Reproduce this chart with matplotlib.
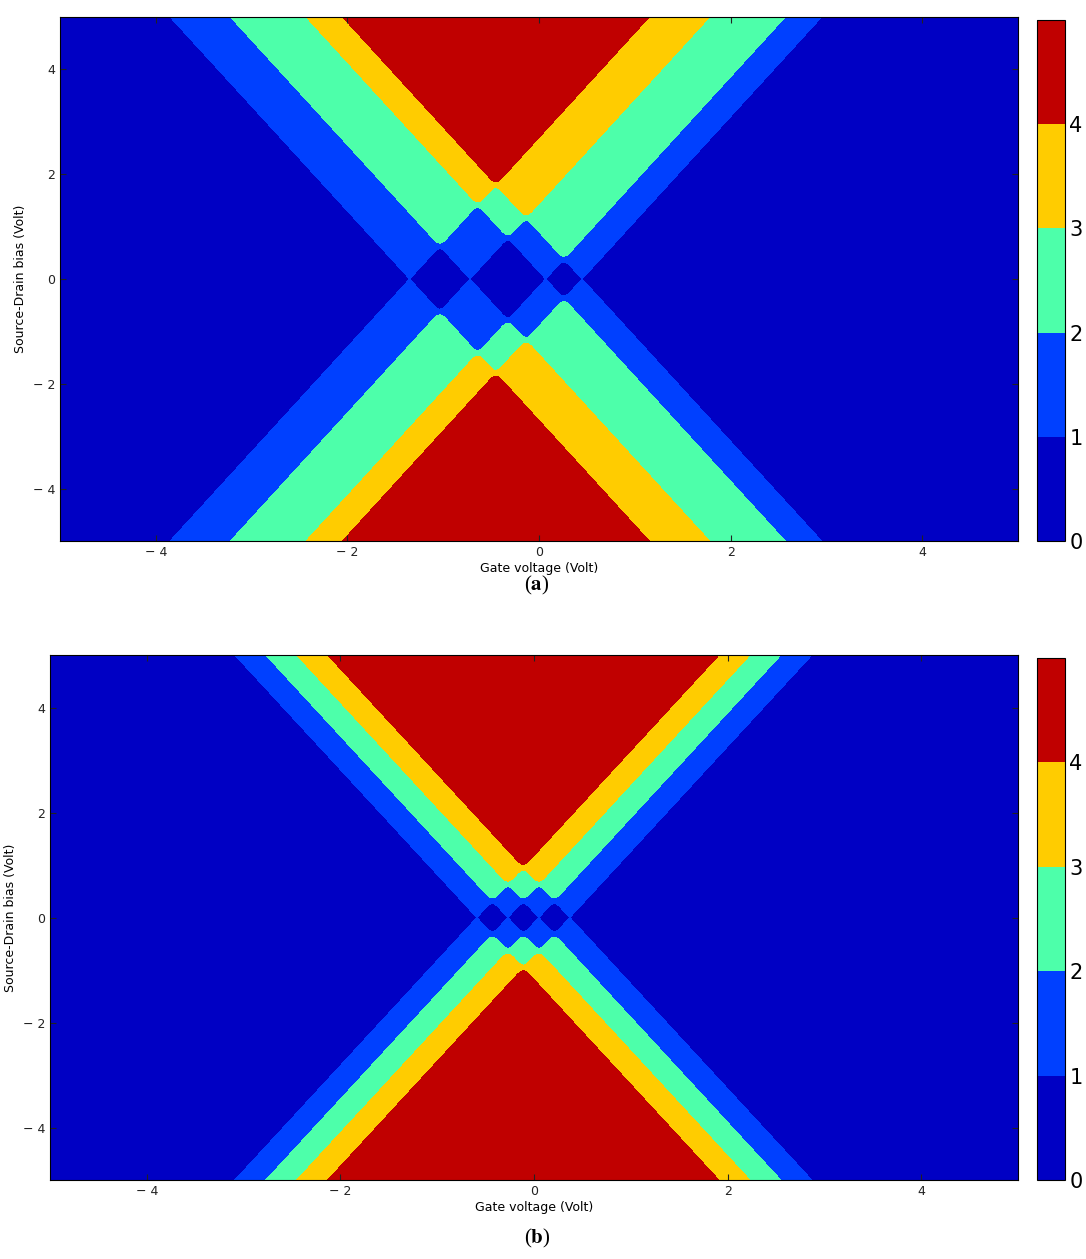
import numpy as np
import matplotlib.pyplot as plt
from matplotlib.ticker import FuncFormatter

# gate voltage (Volt) at which each dot level sits at zero bias
levels_a = [-1.35, -0.72, 0.07, 0.45]
levels_b = [-0.59, -0.27, 0.05, 0.37]
cone_slope = 2.0  # edges of each conduction cone: |Vsd| = 2 |Vg - V_i|

band_edges = [0, 1, 2, 3, 4, 5]
band_colors = ['#0000c4', '#0040ff', '#4dffaa', '#ffcc00', '#c00000']
cbar_ticks = [0, 1, 2, 3, 4]

vg = np.linspace(-5, 5, 1201)
vsd = np.linspace(-5, 5, 901)
VG, VSD = np.meshgrid(vg, vsd)


def n_channels(centers, width=0.05):
    # smooth count of levels inside the bias window
    n = np.zeros_like(VG)
    for c in centers:
        arg = (np.abs(VSD) - cone_slope * np.abs(VG - c)) / width
        n += 1.0 / (1.0 + np.exp(-np.clip(arg, -60, 60)))
    return n


def minus_fmt(v, pos):
    v = int(round(v))
    return '\u2212 %d' % -v if v < 0 else '%d' % v


fig = plt.figure(figsize=(10.86, 12.59), dpi=100)

panels = [
    (levels_a, [0.0552, 0.5703, 0.8822, 0.4162], [0.9549, 0.5703, 0.0258, 0.4138], 'a', 0.4946, 0.531),
    (levels_b, [0.0460, 0.0627, 0.8914, 0.4170], [0.9549, 0.0627, 0.0258, 0.4146], 'b', 0.4946, 0.012),
]

for centers, ax_pos, cb_pos, tag, tx, ty in panels:
    ax = fig.add_axes(ax_pos)
    cs = ax.contourf(VG, VSD, n_channels(centers) + 0.5, levels=band_edges,
                     colors=band_colors)
    ax.set_xlim(-5, 5)
    ax.set_ylim(-5, 5)
    ax.set_xticks([-4, -2, 0, 2, 4])
    ax.set_yticks([-4, -2, 0, 2, 4])
    ax.xaxis.set_major_formatter(FuncFormatter(minus_fmt))
    ax.yaxis.set_major_formatter(FuncFormatter(minus_fmt))
    ax.tick_params(direction='in', top=True, right=True, length=4,
                   labelsize=9, colors='#222222')
    ax.set_xlabel('Gate voltage (Volt)', fontsize=9, labelpad=2)
    ax.set_ylabel('Source-Drain bias (Volt)', fontsize=9)

    cax = fig.add_axes(cb_pos)
    cb = fig.colorbar(cs, cax=cax, ticks=cbar_ticks)
    cb.ax.tick_params(length=0, labelsize=15, pad=3)

    fig.text(tx, ty, r'($\mathbf{%s}$)' % tag, fontsize=15, ha='center',
             family='Liberation Serif', math_fontfamily='stix')

fig.savefig('out.png', dpi=100)
